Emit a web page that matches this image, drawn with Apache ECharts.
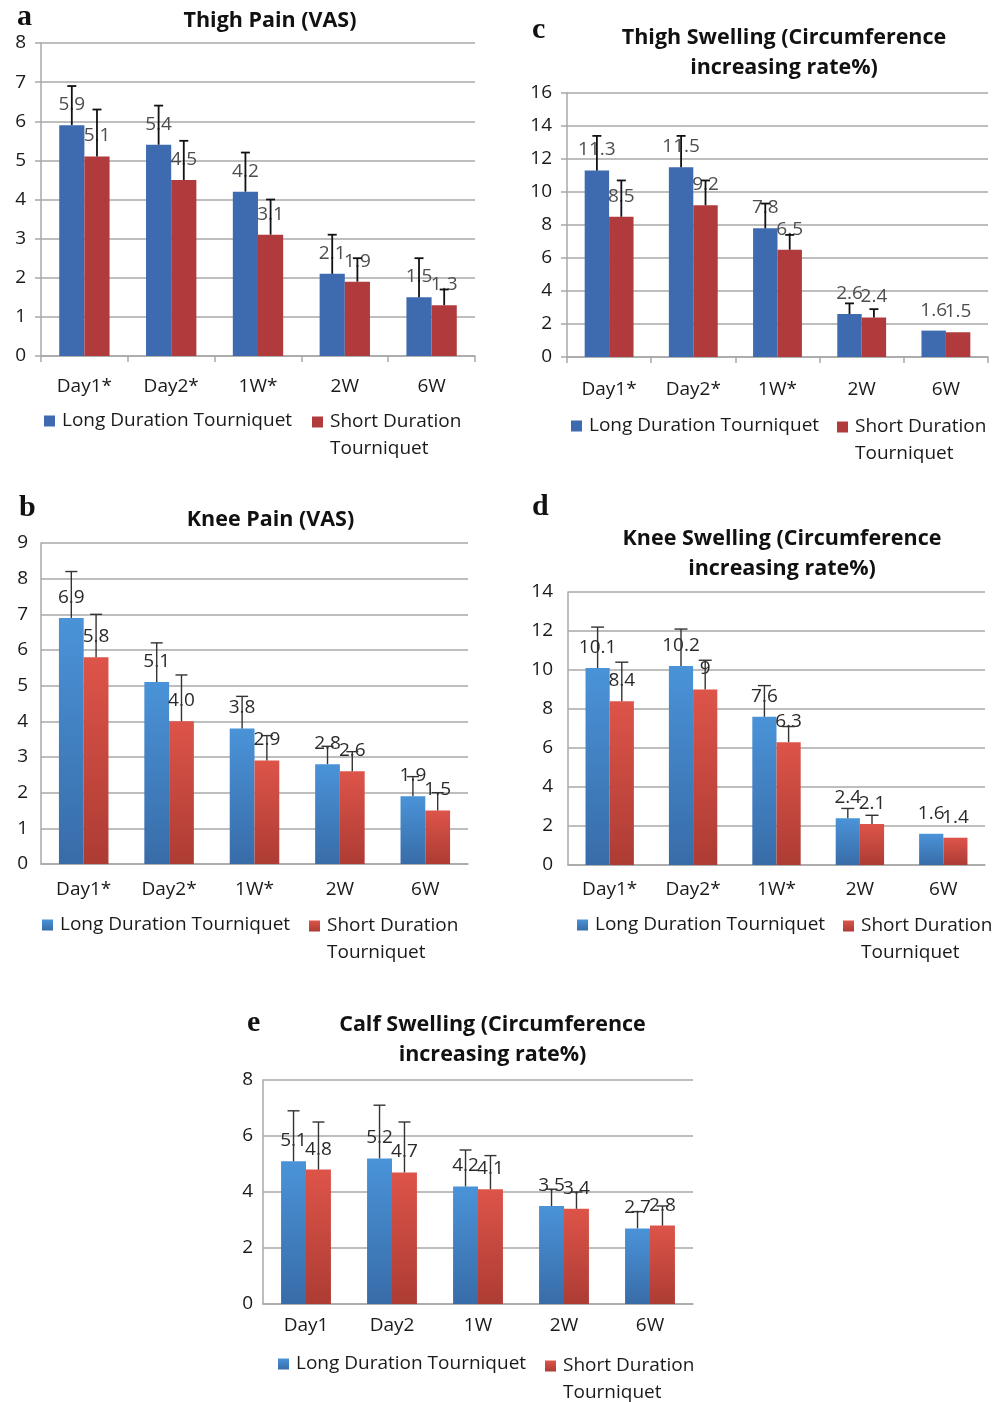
<!DOCTYPE html>
<html><head><meta charset="utf-8">
<script src="https://cdn.jsdelivr.net/npm/echarts@6/dist/echarts.min.js"></script>
<style>html,body{margin:0;padding:0;background:#fff}#c{width:1003px;height:1402px}</style>
</head><body><div id="c"></div>
<script>
// ---------- data ----------
const seriesNames = ['Long Duration Tourniquet', 'Short Duration Tourniquet'];
const shortLegendLabel = ' \nShort Duration\nTourniquet';
const categoriesStarred = ['Day1*', 'Day2*', '1W*', '2W', '6W'];
const categoriesPlain = ['Day1', 'Day2', '1W', '2W', '6W'];

const panelLetters = ['a', 'b', 'c', 'd', 'e'];
const panelTitles = [
  'Thigh Pain (VAS)',
  'Knee Pain (VAS)',
  'Thigh Swelling (Circumference\nincreasing rate%)',
  'Knee Swelling (Circumference\nincreasing rate%)',
  'Calf Swelling (Circumference\nincreasing rate%)'
];
const yAxisMax = [8, 9, 16, 14, 8];
const yAxisInterval = [1, 1, 2, 2, 2];

// a: Thigh pain
const thighPainLong = [5.9, 5.4, 4.2, 2.1, 1.5];
const thighPainShort = [5.1, 4.5, 3.1, 1.9, 1.3];
const thighPainLongErr = [1.0, 1.0, 1.0, 1.0, 1.0];
const thighPainShortErr = [1.2, 1.0, 0.9, 0.6, 0.4];
// b: Knee pain
const kneePainLong = [6.9, 5.1, 3.8, 2.8, 1.9];
const kneePainShort = [5.8, 4.0, 2.9, 2.6, 1.5];
const kneePainLongErr = [1.3, 1.1, 0.9, 0.5, 0.55];
const kneePainShortErr = [1.2, 1.3, 0.7, 0.55, 0.5];
// c: Thigh swelling
const thighSwellLong = [11.3, 11.5, 7.8, 2.6, 1.6];
const thighSwellShort = [8.5, 9.2, 6.5, 2.4, 1.5];
const thighSwellLongErr = [2.1, 1.9, 1.5, 0.65, null];
const thighSwellShortErr = [2.2, 1.5, 0.9, 0.5, null];
// d: Knee swelling
const kneeSwellLong = [10.1, 10.2, 7.6, 2.4, 1.6];
const kneeSwellShort = [8.4, 9, 6.3, 2.1, 1.4];
const kneeSwellLongErr = [2.1, 1.9, 1.6, 0.5, null];
const kneeSwellShortErr = [2.0, 1.5, 0.8, 0.45, null];
// e: Calf swelling
const calfSwellLong = [5.1, 5.2, 4.2, 3.5, 2.7];
const calfSwellShort = [4.8, 4.7, 4.1, 3.4, 2.8];
const calfSwellLongErr = [1.8, 1.9, 1.3, 0.6, 0.6];
const calfSwellShortErr = [1.7, 1.8, 1.2, 0.6, 0.7];

const panelData = [
  { cats: categoriesStarred, long: thighPainLong, short: thighPainShort, longErr: thighPainLongErr, shortErr: thighPainShortErr, decimals: 1 },
  { cats: categoriesStarred, long: kneePainLong, short: kneePainShort, longErr: kneePainLongErr, shortErr: kneePainShortErr, decimals: 1 },
  { cats: categoriesStarred, long: thighSwellLong, short: thighSwellShort, longErr: thighSwellLongErr, shortErr: thighSwellShortErr, decimals: 1 },
  { cats: categoriesStarred, long: kneeSwellLong, short: kneeSwellShort, longErr: kneeSwellLongErr, shortErr: kneeSwellShortErr, decimals: null },
  { cats: categoriesPlain, long: calfSwellLong, short: calfSwellShort, longErr: calfSwellLongErr, shortErr: calfSwellShortErr, decimals: 1 }
];

// ---------- styling / layout ----------
const FONT = 'Open Sans';
const FS = 19;
const GRID_COLOR = '#a8a8a8';
const flatBlue = '#3e6ab0', flatRed = '#b03a3c';
function grad(top, bottom) {
  return new echarts.graphic.LinearGradient(0, 0, 0, 1, [{ offset: 0, color: top }, { offset: 1, color: bottom }]);
}
const gradBlue = () => grad('#4a93d8', '#386ca8');
const gradRed = () => grad('#dd5449', '#ad3c34');

const layout = [
  { grid: { left: 41, top: 43, width: 434, height: 313 }, flat: true, ticks: true, yMargin: 15, xMargin: 21, labelColor: '#4d4d4d', errColor: '#111', errWidth: 1.8, cap: 4.5,
    letter: [17, 17], title: [270, 21, 30], legend: [44, 421, 312, 422] },
  { grid: { left: 41, top: 543, width: 427, height: 321 }, flat: false, ticks: false, yMargin: 13, xMargin: 16, labelColor: '#2a2a2a', errColor: '#333', errWidth: 1.4, cap: 6,
    letter: [19, 508], title: [270.5, 519.5, 30], legend: [42, 925, 309, 926] },
  { grid: { left: 567, top: 93, width: 421, height: 264 }, flat: true, ticks: true, yMargin: 15, xMargin: 23, labelColor: '#4d4d4d', errColor: '#111', errWidth: 1.8, cap: 4.5,
    letter: [532, 30], title: [784, 53, 30], legend: [571, 426, 837, 427] },
  { grid: { left: 568, top: 592, width: 417, height: 273 }, flat: false, ticks: false, yMargin: 15, xMargin: 15, labelColor: '#2a2a2a', errColor: '#333', errWidth: 1.4, cap: 6.5,
    letter: [532, 507], title: [782, 553.5, 30], legend: [577, 925, 843, 926] },
  { grid: { left: 263, top: 1080, width: 430, height: 224 }, flat: false, ticks: false, yMargin: 10, xMargin: 12, labelColor: '#2a2a2a', errColor: '#333', errWidth: 1.4, cap: 6,
    letter: [247, 1023], title: [492.5, 1040, 29.5], legend: [278, 1364, 545, 1366] }
];

const BAR_HALF_OFFSET = 0.145; // fraction of category width from centre to each bar centre

function errorSeries(i, values, errs, side) {
  const L = layout[i];
  const items = [];
  errs.forEach((e, k) => { if (e != null) items.push([k, values[k], e]); });
  return {
    type: 'custom', xAxisIndex: i, yAxisIndex: i, z: 5, silent: true,
    encode: { x: 0, y: 1 },
    data: items,
    renderItem: function (params, api) {
      const k = api.value(0), v = api.value(1), e = api.value(2);
      const base = api.coord([k, v]);
      const top = api.coord([k, v + e]);
      const cw = api.size([1, 0])[0];
      const x = base[0] + side * cw * BAR_HALF_OFFSET;
      const style = { stroke: L.errColor, lineWidth: L.errWidth };
      return { type: 'group', children: [
        { type: 'line', shape: { x1: x, y1: base[1], x2: x, y2: top[1] }, style: style },
        { type: 'line', shape: { x1: x - L.cap, y1: top[1], x2: x + L.cap, y2: top[1] }, style: style }
      ] };
    }
  };
}

const option = { animation: false, backgroundColor: '#fff', title: [], grid: [], xAxis: [], yAxis: [], legend: [], series: [] };

panelData.forEach((P, i) => {
  const L = layout[i];
  const blue = L.flat ? flatBlue : gradBlue();
  const red = L.flat ? flatRed : gradRed();
  option.title.push({ text: panelLetters[i], left: L.letter[0], top: L.letter[1], padding: 0, textVerticalAlign: 'middle',
    textStyle: { fontFamily: 'Liberation Serif', fontWeight: 'bold', fontSize: 30, color: '#111' } });
  option.title.push({ text: panelTitles[i], left: L.title[0], top: L.title[1], padding: 0, textAlign: 'center', textVerticalAlign: 'middle',
    textStyle: { fontFamily: FONT, fontWeight: 'bold', fontSize: 21.5, color: '#111', lineHeight: L.title[2] } });
  option.grid.push(Object.assign({ containLabel: false, outerBoundsMode: 'none' }, L.grid));
  const axisLine = { show: true, lineStyle: { color: GRID_COLOR, width: 1.5 } };
  const axisTick = { show: L.ticks, length: 6, lineStyle: { color: GRID_COLOR, width: 1.5 } };
  option.xAxis.push({ type: 'category', gridIndex: i, data: P.cats, axisLine: axisLine, axisTick: axisTick,
    axisLabel: { fontFamily: FONT, fontSize: FS, color: '#1a1a1a', margin: L.xMargin }, splitLine: { show: false } });
  option.yAxis.push({ type: 'value', gridIndex: i, min: 0, max: yAxisMax[i], interval: yAxisInterval[i], axisLine: axisLine, axisTick: axisTick,
    axisLabel: { fontFamily: FONT, fontSize: FS, color: '#1a1a1a', margin: L.yMargin },
    splitLine: { show: true, lineStyle: { color: GRID_COLOR, width: 1.5 } } });
  const fmt = (p) => P.decimals == null ? String(p.value) : p.value.toFixed(P.decimals);
  const label = { show: true, position: 'top', distance: 11, fontFamily: FONT, fontSize: FS, color: L.labelColor, formatter: fmt };
  option.series.push({ type: 'bar', name: seriesNames[0], xAxisIndex: i, yAxisIndex: i, data: P.long, barGap: '0%', barCategoryGap: '42%',
    itemStyle: { color: blue }, label: label, silent: true, z: 2 });
  option.series.push({ type: 'bar', name: seriesNames[1], xAxisIndex: i, yAxisIndex: i, data: P.short, barGap: '0%', barCategoryGap: '42%',
    itemStyle: { color: red }, label: label, silent: true, z: 2 });
  option.series.push(errorSeries(i, P.long, P.longErr, -1));
  option.series.push(errorSeries(i, P.short, P.shortErr, 1));
  const legendText = { fontFamily: FONT, fontSize: FS, color: '#1a1a1a', lineHeight: 27, padding: [0, 0, 0, 2] };
  option.legend.push({ left: L.legend[0], top: L.legend[1] - 13.5, padding: 0, icon: 'rect', itemWidth: 11, itemHeight: 11, selectedMode: false,
    data: [{ name: seriesNames[0], itemStyle: { color: L.flat ? flatBlue : gradBlue() } }],
    textStyle: legendText });
  option.legend.push({ left: L.legend[2], top: L.legend[3] - 40.5, padding: 0, icon: 'rect', itemWidth: 11, itemHeight: 11, selectedMode: false,
    data: [{ name: seriesNames[1], itemStyle: { color: L.flat ? flatRed : gradRed() } }],
    formatter: () => shortLegendLabel,
    textStyle: legendText });
});

const chart = echarts.init(document.getElementById('c'), null, { renderer: 'canvas' });
chart.setOption(option);
</script>
</body></html>
